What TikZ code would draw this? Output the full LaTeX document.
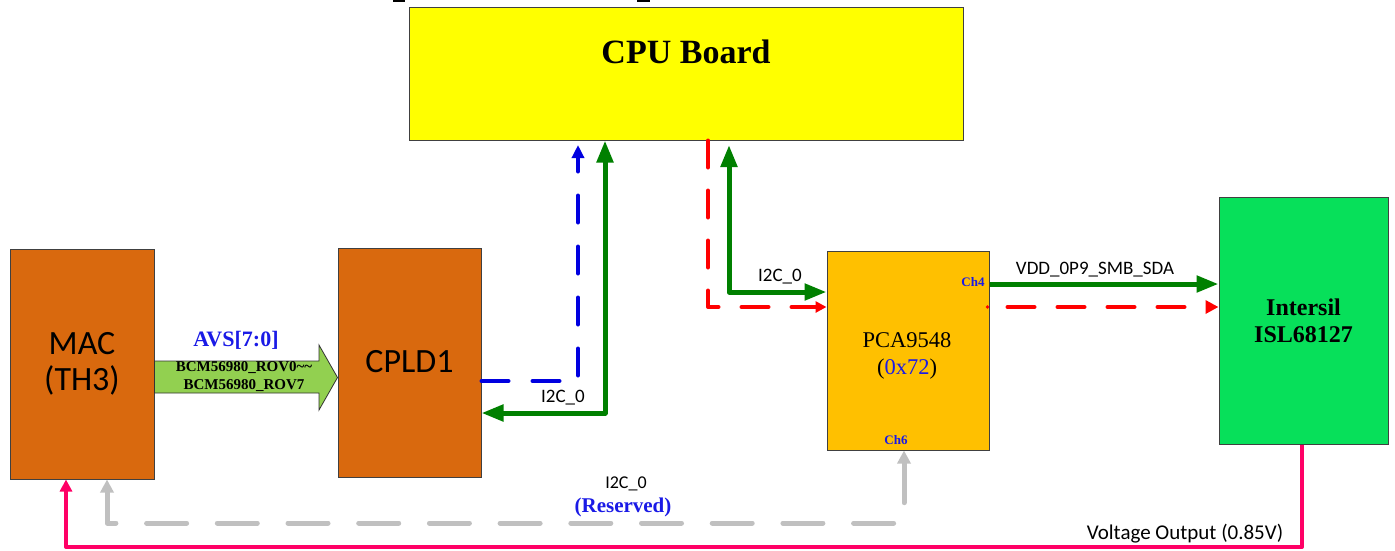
\documentclass[tikz,border=0pt]{standalone}
\usepackage{fontspec}
\setmainfont{Liberation Serif}
\newfontfamily\calfont{Carlito}
\usetikzlibrary{arrows.meta}
\definecolor{macorange}{HTML}{D9690E}
\definecolor{cpuyellow}{HTML}{FFFF00}
\definecolor{pcagold}{HTML}{FFC000}
\definecolor{islgreen}{HTML}{07E05A}
\definecolor{avsgreen}{HTML}{92D050}
\definecolor{linegreen}{HTML}{008000}
\definecolor{lineblue}{HTML}{0000E0}
\definecolor{linered}{HTML}{FF0000}
\definecolor{linegrey}{HTML}{C0C0C0}
\definecolor{linepink}{HTML}{FF0066}
\definecolor{txtblue}{HTML}{1A1AE6}
\begin{document}
\begin{tikzpicture}[x=1pt,y=-1pt,
  box/.style={draw=black!75, line width=1pt, inner sep=0pt},
  sanslabel/.style={font=\calfont\fontsize{19}{21}\selectfont, inner sep=1pt},
  chlabel/.style={font=\bfseries\fontsize{13}{14}\selectfont, text=txtblue, inner sep=0pt},
  greenline/.style={draw=linegreen, line width=5pt, line join=round,
    arrows={Triangle[length=22pt,width=16pt]-Triangle[length=22pt,width=16pt]}},
  bluedash/.style={draw=lineblue, line width=4pt, line cap=round, line join=round,
    dash pattern=on 27pt off 24pt},
  reddash/.style={draw=linered, line width=4pt, line cap=round, line join=round,
    dash pattern=on 27pt off 23pt},
  greydash/.style={draw=linegrey, line width=5pt, line cap=round, line join=round,
    dash pattern=on 40pt off 30.7pt},
  pinkline/.style={draw=linepink, line width=4pt, line join=round}
]
\useasboundingbox (0,0) rectangle (1395,550);

% small top marks
\draw[line width=1.5pt] (393,1) -- (405,1);
\draw[line width=1.5pt] (637,1) -- (650,1);

% boxes
\node[box, fill=cpuyellow, minimum width=554pt, minimum height=133pt] (cpu) at (686,73.5) {};
\node[font=\bfseries\fontsize{34}{38}\selectfont] (cputxt) at (686,52) {CPU Board};

\node[box, fill=macorange, minimum width=144pt, minimum height=230pt] (mac) at (82,364) {};
\node[font=\calfont\fontsize{34}{36}\selectfont, align=center] (mactxt) at (82,364) {MAC\\(TH3)};

\node[box, fill=macorange, minimum width=143pt, minimum height=229pt] (cpld) at (409.5,362.5) {};
\node[font=\calfont\fontsize{34}{36}\selectfont] (cpldtxt) at (409.5,362) {CPLD1};

\node[box, fill=pcagold, minimum width=162pt, minimum height=199pt] (pca) at (908,350.5) {};
\node[font=\fontsize{22.5}{27}\selectfont, align=center] (pcatxt) at (907,356) {PCA9548\\(\textcolor{txtblue}{0x72})};
\node[chlabel] (ch4) at (973,282) {Ch4};
\node[chlabel] (ch6) at (896,440) {Ch6};

\node[box, fill=islgreen, minimum width=169pt, minimum height=247pt] (isl) at (1303.5,320.5) {};
\node[font=\bfseries\fontsize{24}{27}\selectfont, align=center] (isltxt) at (1303.5,321) {Intersil\\ISL68127};

% AVS arrow
\draw[draw=black!80, line width=0.8pt, fill=avsgreen]
  (mac.east |- 0,361) -- (319,361) -- (319,345) -- (cpld.west |- 0,377.5)
  -- (319,410) -- (319,393) -- (mac.east |- 0,393) -- cycle;
\node[font=\bfseries\fontsize{15}{18}\selectfont, align=center, inner sep=0pt] (avstxt) at (244,377)
  {BCM56980\_ROV0\textasciitilde\textasciitilde\\BCM56980\_ROV7};
\node[font=\bfseries\fontsize{22}{24}\selectfont, text=txtblue] (avslbl) at (236,340) {AVS[7:0]};

% coordinates
\coordinate (b1) at (578,381);
\coordinate (btop) at (578,145);
\coordinate (g1) at (605,413);
\coordinate (r1) at (708,307);
\coordinate (g2top) at (729,145);
\coordinate (g2) at (729,292);
\coordinate (g3) at (0,284);
\coordinate (r2) at (0,307);
\coordinate (gr1) at (904,523);
\coordinate (gr2) at (107,523);
\coordinate (pk1) at (1302,547);
\coordinate (pk2) at (66,547);

% blue dashed CPLD -> CPU
\draw[bluedash, -{Triangle[length=13pt,width=12pt]}] (cpld.east |- b1) -- (b1) -- (btop);

% green CPU <-> CPLD
\draw[greenline] (cpu.south -| g1) -- (g1) -- (cpld.east |- g1);
\node[sanslabel] (i2cl) at (563,398) {I2C\_0};

% red dashed CPU -> PCA
\draw[reddash, -{Triangle[length=11pt,width=11pt]}] (cpu.south -| r1) -- (r1) -- (pca.west |- r1);

% green CPU <-> PCA
\draw[greenline] (g2top) -- (g2) -- (pca.west |- g2);
\node[sanslabel] (i2cr) at (780,277) {I2C\_0};

% PCA -> Intersil
\draw[greenline, arrows={-Triangle[length=22pt,width=16pt]}] (pca.east |- g3) -- (isl.west |- g3);
\node[sanslabel] (vdd) at (1095,270) {VDD\_0P9\_SMB\_SDA};
\draw[reddash, -{Triangle[length=13pt,width=13pt]}] (pca.east |- r2) ++(18,0) -- (isl.west |- r2);
\fill[linered] (pca.east |- r2) ++(-2,0) circle (1.8pt);

% grey reserved
\draw[greydash, {Triangle[length=13pt,width=13pt]}-{Triangle[length=13pt,width=13pt]}]
  (pca.south -| gr1) -- (gr1) -- (gr2) -- (mac.south -| gr2);
\node[font=\calfont\fontsize{18}{20}\selectfont, inner sep=0pt] (i2cres) at (626,484) {I2C\_0};
\node[font=\bfseries\fontsize{21}{23}\selectfont, text=txtblue, inner sep=0pt] (resv) at (623,507) {(Reserved)};

% pink voltage output
\draw[pinkline, -{Triangle[length=12pt,width=12pt]}] (isl.south -| pk1) -- (pk1) -- (pk2) -- (mac.south -| pk2);
\node[font=\calfont\fontsize{21}{23}\selectfont, fill=white, inner sep=1pt] (vout) at (1185,534) {Voltage Output (0.85V)};
\end{tikzpicture}
\end{document}
